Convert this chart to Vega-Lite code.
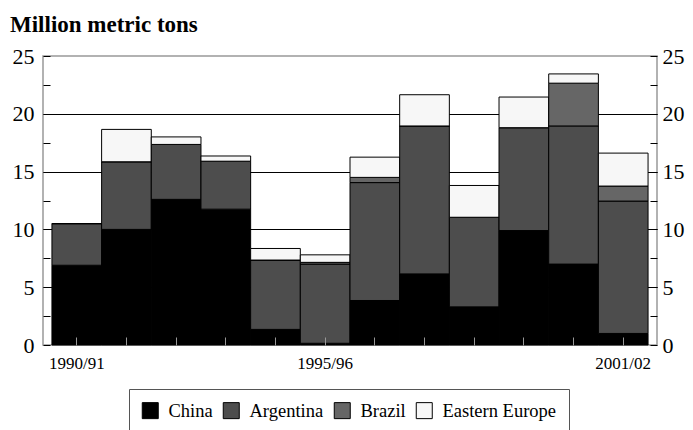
{
  "$schema": "https://vega.github.io/schema/vega-lite/v6.json",
  "width": 614,
  "height": 289,
  "autosize": "none",
  "padding": {"left": 43, "top": 56, "right": 36, "bottom": 85},
  "background": "white",
  "title": {
    "text": "Million metric tons",
    "anchor": "start",
    "frame": "group",
    "dx": -33,
    "offset": 8,
    "font": "Liberation Serif",
    "fontSize": 23,
    "fontWeight": "bold",
    "color": "black"
  },
  "config": {
    "view": {"stroke": "#999999", "strokeWidth": 1.5},
    "font": "Liberation Serif"
  },
  "data": {
    "values": [
      {"year": "1990/91", "country": "China", "ord": 1, "value": 6.9},
      {"year": "1990/91", "country": "Argentina", "ord": 2, "value": 3.6},
      {"year": "1990/91", "country": "Brazil", "ord": 3, "value": 0},
      {"year": "1990/91", "country": "Eastern Europe", "ord": 4, "value": 0},
      {"year": "1991/92", "country": "China", "ord": 1, "value": 10.0},
      {"year": "1991/92", "country": "Argentina", "ord": 2, "value": 5.85},
      {"year": "1991/92", "country": "Brazil", "ord": 3, "value": 0},
      {"year": "1991/92", "country": "Eastern Europe", "ord": 4, "value": 2.8},
      {"year": "1992/93", "country": "China", "ord": 1, "value": 12.6},
      {"year": "1992/93", "country": "Argentina", "ord": 2, "value": 4.75},
      {"year": "1992/93", "country": "Brazil", "ord": 3, "value": 0},
      {"year": "1992/93", "country": "Eastern Europe", "ord": 4, "value": 0.65},
      {"year": "1993/94", "country": "China", "ord": 1, "value": 11.75},
      {"year": "1993/94", "country": "Argentina", "ord": 2, "value": 4.15},
      {"year": "1993/94", "country": "Brazil", "ord": 3, "value": 0},
      {"year": "1993/94", "country": "Eastern Europe", "ord": 4, "value": 0.45},
      {"year": "1994/95", "country": "China", "ord": 1, "value": 1.35},
      {"year": "1994/95", "country": "Argentina", "ord": 2, "value": 6.0},
      {"year": "1994/95", "country": "Brazil", "ord": 3, "value": 0},
      {"year": "1994/95", "country": "Eastern Europe", "ord": 4, "value": 1.0},
      {"year": "1995/96", "country": "China", "ord": 1, "value": 0.15},
      {"year": "1995/96", "country": "Argentina", "ord": 2, "value": 6.85},
      {"year": "1995/96", "country": "Brazil", "ord": 3, "value": 0.15},
      {"year": "1995/96", "country": "Eastern Europe", "ord": 4, "value": 0.65},
      {"year": "1996/97", "country": "China", "ord": 1, "value": 3.85},
      {"year": "1996/97", "country": "Argentina", "ord": 2, "value": 10.2},
      {"year": "1996/97", "country": "Brazil", "ord": 3, "value": 0.45},
      {"year": "1996/97", "country": "Eastern Europe", "ord": 4, "value": 1.75},
      {"year": "1997/98", "country": "China", "ord": 1, "value": 6.15},
      {"year": "1997/98", "country": "Argentina", "ord": 2, "value": 12.8},
      {"year": "1997/98", "country": "Brazil", "ord": 3, "value": 0},
      {"year": "1997/98", "country": "Eastern Europe", "ord": 4, "value": 2.7},
      {"year": "1998/99", "country": "China", "ord": 1, "value": 3.3},
      {"year": "1998/99", "country": "Argentina", "ord": 2, "value": 7.75},
      {"year": "1998/99", "country": "Brazil", "ord": 3, "value": 0},
      {"year": "1998/99", "country": "Eastern Europe", "ord": 4, "value": 2.75},
      {"year": "1999/00", "country": "China", "ord": 1, "value": 9.9},
      {"year": "1999/00", "country": "Argentina", "ord": 2, "value": 8.9},
      {"year": "1999/00", "country": "Brazil", "ord": 3, "value": 0},
      {"year": "1999/00", "country": "Eastern Europe", "ord": 4, "value": 2.65},
      {"year": "2000/01", "country": "China", "ord": 1, "value": 7.0},
      {"year": "2000/01", "country": "Argentina", "ord": 2, "value": 11.95},
      {"year": "2000/01", "country": "Brazil", "ord": 3, "value": 3.7},
      {"year": "2000/01", "country": "Eastern Europe", "ord": 4, "value": 0.8},
      {"year": "2001/02", "country": "China", "ord": 1, "value": 1.0},
      {"year": "2001/02", "country": "Argentina", "ord": 2, "value": 11.45},
      {"year": "2001/02", "country": "Brazil", "ord": 3, "value": 1.3},
      {"year": "2001/02", "country": "Eastern Europe", "ord": 4, "value": 2.85}
    ]
  },
  "encoding": {
    "x": {
      "field": "year",
      "type": "nominal",
      "sort": null,
      "scale": {"paddingInner": 0, "paddingOuter": 0.18},
      "axis": {
        "title": null,
        "labelAngle": 0,
        "labelExpr": "(datum.value == '1990/91' || datum.value == '1995/96' || datum.value == '2001/02') ? datum.label : ''",
        "labelFont": "Liberation Serif",
        "labelFontSize": 17,
        "labelColor": "black",
        "labelPadding": 18,
        "tickSize": -8,
        "tickColor": "#999999",
        "tickWidth": 1,
        "domain": false,
        "grid": false,
        "zindex": 1
      }
    }
  },
  "layer": [
    {
      "mark": {"type": "bar", "stroke": "black", "strokeWidth": 1},
      "encoding": {
        "y": {
          "field": "value",
          "type": "quantitative",
          "stack": "zero",
          "scale": {"domain": [0, 25], "nice": false},
          "axis": {
            "orient": "left",
            "title": null,
            "values": [5, 10, 15, 20],
            "labels": false,
            "ticks": false,
            "domain": false,
            "grid": true,
            "gridColor": "black",
            "gridWidth": 1,
            "gridOpacity": 1,
            "zindex": 0
          }
        },
        "color": {
          "field": "country",
          "type": "nominal",
          "scale": {
            "domain": ["China", "Argentina", "Brazil", "Eastern Europe"],
            "range": ["#000000", "#4d4d4d", "#666666", "#f7f7f7"]
          },
          "legend": {
            "title": null,
            "orient": "none",
            "legendX": 86,
            "legendY": 333,
            "direction": "horizontal",
            "strokeColor": "#555555",
            "padding": 12,
            "symbolType": "square",
            "symbolSize": 256,
            "symbolStrokeColor": "black",
            "symbolStrokeWidth": 1,
            "symbolOpacity": 1,
            "labelFont": "Liberation Serif",
            "labelFontSize": 18.5,
            "labelColor": "black",
            "labelOffset": 9,
            "columnPadding": 8
          }
        },
        "order": {"field": "ord", "type": "quantitative"}
      }
    },
    {
      "mark": {"type": "bar", "opacity": 0},
      "encoding": {
        "y": {
          "field": "value",
          "type": "quantitative",
          "stack": "zero",
          "scale": {"domain": [0, 25], "nice": false},
          "axis": {
            "orient": "left",
            "title": null,
            "values": [0, 2.5, 5, 7.5, 10, 12.5, 15, 17.5, 20, 22.5, 25],
            "labelExpr": "datum.value % 5 == 0 ? datum.label : ''",
            "labelFont": "Liberation Serif",
            "labelFontSize": 22,
            "labelColor": "black",
            "labelPadding": 16,
            "tickSize": -7,
            "tickColor": "black",
            "tickWidth": 1,
            "domain": false,
            "grid": false,
            "zindex": 0
          }
        },
        "detail": {"field": "country", "type": "nominal"}
      }
    },
    {
      "mark": {"type": "bar", "opacity": 0},
      "encoding": {
        "y": {
          "field": "value",
          "type": "quantitative",
          "stack": "zero",
          "scale": {"domain": [0, 25], "nice": false},
          "axis": {
            "orient": "right",
            "title": null,
            "values": [0, 2.5, 5, 7.5, 10, 12.5, 15, 17.5, 20, 22.5, 25],
            "labelExpr": "datum.value % 5 == 0 ? datum.label : ''",
            "labelFont": "Liberation Serif",
            "labelFontSize": 22,
            "labelColor": "black",
            "labelPadding": 12,
            "tickSize": -7,
            "tickColor": "black",
            "tickWidth": 1,
            "domain": false,
            "grid": false,
            "zindex": 0
          }
        },
        "detail": {"field": "country", "type": "nominal"}
      }
    }
  ],
  "resolve": {"axis": {"y": "independent"}}
}
